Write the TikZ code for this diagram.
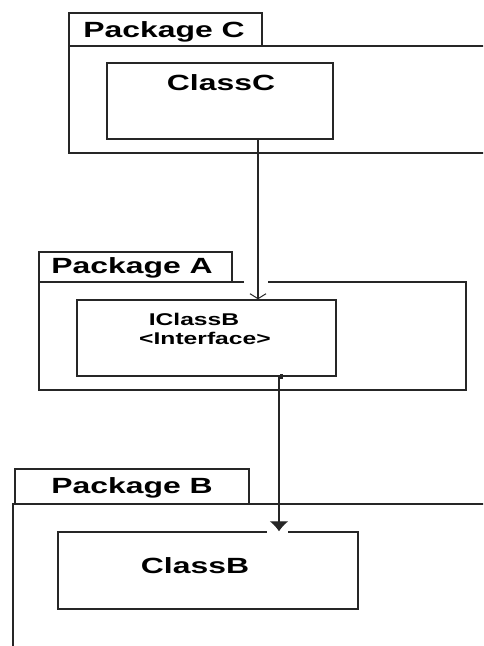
\documentclass[tikz,border=0pt]{standalone}
\usepackage{fontspec}
\usetikzlibrary{arrows.meta}
\newfontfamily\umlfont[FakeStretch=1.45]{Liberation Sans Bold}
\tikzset{
  umlline/.style={line width=1.4pt, draw=black!85},
  pkgtab/.style={umlline, rectangle, inner sep=0pt},
  classbox/.style={umlline, rectangle, inner sep=0pt},
  bigtext/.style={inner sep=0pt, anchor=base, font=\umlfont\fontsize{22}{25}\selectfont},
  smalltext/.style={inner sep=0pt, anchor=base, font=\umlfont\fontsize{17}{20}\selectfont},
  dependency/.style={umlline, line width=1.3pt},
}
\begin{document}
\begin{tikzpicture}[x=1pt,y=-1pt]
\clip (0,0) rectangle (483,646);
\fill[white] (0,0) rectangle (483,646);

% ---- Package C ----
\node[pkgtab, minimum width=193pt, minimum height=33pt] (tabC) at (165.5,29.5) {};
\node[bigtext] (lblPkgC) at (164,37.5) {Package C};
\draw[umlline] (490,46) -- (69,46) -- (69,153) -- (490,153);
\node[classbox, minimum width=226pt, minimum height=76pt] (classC) at (220,101) {};
\node[bigtext] (lblClassC) at (221,90.5) {ClassC};

% ---- Package A ----
\node[pkgtab, minimum width=193pt, minimum height=30pt] (tabA) at (135.5,267) {};
\node[bigtext] (lblPkgA) at (132,273.5) {Package A};
\draw[umlline] (244,282) -- (39,282) -- (39,390) -- (466,390) -- (466,282) -- (268,282);
\node[classbox, minimum width=259pt, minimum height=76pt] (iclassB) at (206.5,338) {};
\node[smalltext] (lblIClassB) at (194,325.5) {IClassB};
\node[smalltext] (lblIface) at (205,344.5) {<Interface>};

% ---- Package B ----
\node[pkgtab, minimum width=234pt, minimum height=35pt] (tabB) at (132,486.5) {};
\node[bigtext] (lblPkgB) at (132,493.5) {Package B};
\draw[umlline] (13,660) -- (13,504) -- (490,504);
\node[classbox, minimum width=300pt, minimum height=77pt] (classB) at (208,570.5) {};
\node[bigtext] (lblClassB) at (195,573.5) {ClassB};
\fill[white] (267,530) rectangle (288,534);

% ---- dependencies ----
\coordinate (colCA) at (258,0);
\coordinate (colAB) at (279,0);
\draw[dependency, -{Straight Barb[length=5pt,width=16pt,line width=1pt]}]
  (classC.south -| colCA) -- (iclassB.north -| colCA);
\draw[dependency, -{Latex[length=10pt,width=19pt]}]
  (iclassB.south -| colAB) -- (classB.north -| colAB);
\fill[black!85] ([xshift=1pt,yshift=3pt]iclassB.south -| colAB) rectangle ([xshift=4pt,yshift=-2pt]iclassB.south -| colAB);
\end{tikzpicture}
\end{document}
